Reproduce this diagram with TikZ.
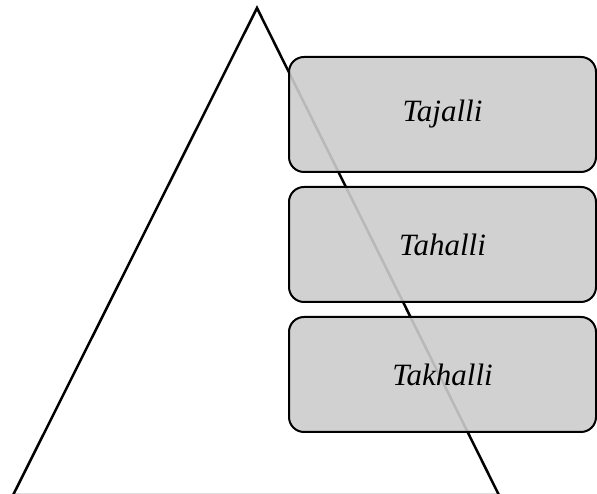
\documentclass[tikz,border=0pt]{standalone}
\usepackage{fontspec}
\setmainfont{Liberation Serif}
\usepackage{tikz}

\tikzset{
  stagebox/.style={rectangle,rounded corners=15pt,draw,line width=2pt,
    fill=black!20,fill opacity=0.9,text opacity=1,
    minimum width=307pt,minimum height=115pt,
    font=\fontsize{31}{37}\selectfont\itshape}
}

\begin{document}
\begin{tikzpicture}[x=1pt,y=1pt]
\useasboundingbox (0,0) rectangle (597,494);
\coordinate (top) at (257,486);
\coordinate (bl) at (13,-1.2);
\coordinate (br) at (499,-1.2);

\draw[line width=2.5pt,line join=miter] (bl) -- (top) -- (br) -- cycle;

\node[stagebox] (tajalli) at (442.5,379.5){Tajalli};
\node[stagebox] (tahalli) at (442.5,249.5){Tahalli};
\node[stagebox] (takhalli) at (442.5,119.5){Takhalli};
\end{tikzpicture}
\end{document}
